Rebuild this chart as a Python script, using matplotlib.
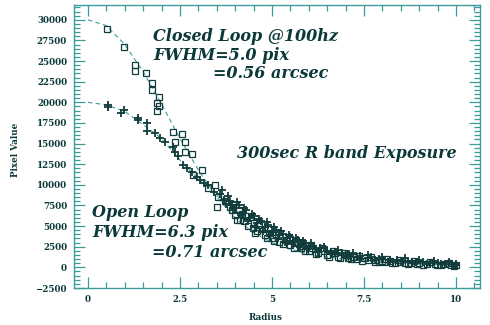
import numpy as np
import matplotlib
matplotlib.use("Agg")
import matplotlib.pyplot as plt
from matplotlib.ticker import MultipleLocator

# Closed loop (squares): radius, pixel value
closed_r = [0.53, 0.99, 1.28, 1.28, 1.58, 1.73, 1.73, 1.93, 1.93, 1.87, 1.87,
            2.32, 2.55, 2.36, 2.64, 2.64, 2.82, 3.09, 2.86, 3.45, 3.26, 3.53,
            3.50, 3.86, 3.72,
            3.9, 4.0, 4.1, 4.12, 4.24, 4.3, 4.47, 4.5, 4.6, 4.72, 4.8, 4.92,
            5.0, 5.1, 5.2, 5.39, 5.5, 5.66, 5.8, 5.83, 6.0, 6.08, 6.25, 6.4,
            6.5, 6.71, 6.8, 7.0, 7.07, 7.2, 7.28, 7.5, 7.62, 7.8, 7.81, 8.0,
            8.06, 8.2, 8.25, 8.49, 8.6, 8.77, 8.94, 9.0, 9.22, 9.43, 9.49,
            9.7, 9.85, 10.0,
            3.95, 4.05, 4.18, 4.35, 4.42, 4.55, 4.65, 4.85, 4.95, 5.05, 5.15,
            5.3, 5.45, 5.6, 5.75, 5.9, 6.05, 6.2, 6.35, 6.55, 6.65, 6.85, 6.95,
            7.15, 7.35, 7.45, 7.7, 7.9, 8.1, 8.35, 8.45, 8.7, 8.85, 9.1, 9.3,
            9.6, 9.8, 9.95]
closed_v = [28900, 26750, 24500, 23800, 23600, 22400, 21500, 20600, 19500, 19900, 19000,
            16400, 16200, 15200, 15200, 14000, 13800, 11800, 11200, 9950, 9600, 8500,
            7300, 7300, 8100,
            7000, 6300, 6900, 5800, 5600, 6200, 4800, 5400, 4400, 4700, 3900, 4200,
            3500, 3900, 3100, 3300, 2700, 2900, 2300, 2600, 2000, 2300, 1800, 2000,
            1500, 1700, 1300, 1500, 1100, 1300, 1000, 1100, 850, 950, 700, 800,
            650, 750, 550, 650, 500, 550, 400, 500, 350, 420, 300,
            350, 250, 300,
            7600, 5700, 6500, 5000, 6100, 4200, 5100, 3600, 4700, 3200, 4300,
            2800, 3700, 2400, 3100, 2000, 2700, 1600, 2300, 1300, 2000, 1100, 1700,
            1000, 1400, 800, 1200, 650, 1000, 500, 900, 400, 750, 300, 650,
            250, 550, 150]

# Open loop (plus signs)
open_r = [0.55, 0.55, 0.9, 0.99, 1.37, 1.37, 1.6, 1.61, 1.82, 1.96, 2.1, 2.32,
          2.36, 2.45, 2.59, 2.7, 2.82, 2.95, 3.04, 3.15, 3.27, 3.41,
          3.6, 3.7, 3.8, 3.9, 4.0, 4.1, 4.2, 4.3, 4.4, 4.5, 4.6, 4.7, 4.8,
          4.9, 5.0, 5.1, 5.2, 5.3, 5.4, 5.5, 5.6, 5.7, 5.8, 5.9, 6.0, 6.1,
          6.2, 6.3, 6.5, 6.6, 6.7, 6.9, 7.0, 7.1, 7.3, 7.4, 7.6, 7.7, 7.9,
          8.0, 8.2, 8.4, 8.5, 8.7, 8.9, 9.1, 9.3, 9.5, 9.7, 9.9, 10.0,
          3.65, 3.75, 3.85, 3.95, 4.05, 4.15, 4.25, 4.35, 4.45, 4.55, 4.65,
          4.75, 4.85, 4.95, 5.05, 5.15, 5.25, 5.35, 5.45, 5.55, 5.65, 5.75,
          5.85, 5.95, 6.05, 6.25, 6.4, 6.6, 6.8, 7.0, 7.2, 7.4, 7.6, 7.8,
          8.0, 8.3, 8.6, 8.8, 9.0, 9.2, 9.4, 9.6, 9.8, 10.0]
open_v = [19460, 19670, 18730, 19060, 18050, 17850, 17440, 16550, 16230, 15620, 15200, 14600,
          14000, 13500, 12380, 12000, 11570, 11000, 10560, 10200, 9950, 9140,
          8900, 8200, 8600, 7600, 7200, 7500, 6600, 6900, 6000, 6200, 5400, 5600, 4900,
          5100, 4400, 4500, 3900, 4100, 3500, 3700, 3100, 3300, 2800, 2900, 2500, 2600,
          2200, 2300, 2000, 1900, 1700, 1800, 1500, 1600, 1300, 1400, 1150, 1200, 1000,
          1050, 900, 850, 800, 700, 650, 600, 550, 500, 450, 400, 350,
          9400, 7700, 8000, 6900, 7900, 6300, 7200, 5600, 6500, 4900, 5900,
          4400, 5500, 3900, 4900, 3500, 4400, 3100, 3900, 2800, 3500, 2500,
          3200, 2200, 2900, 1900, 2500, 1600, 2100, 1200, 1800, 1000, 1500, 850,
          1300, 700, 1100, 550, 900, 450, 750, 350, 600, 250]

# dashed fit curves
fit_r = [0, 0.5, 1.0, 1.5, 2.0, 2.5, 3.0, 3.5, 4.0, 4.5, 5.0, 5.5, 6.0, 6.5, 7.0, 8.0, 9.0, 10.0]
closed_fit = [30000, 29300, 27000, 23700, 19800, 15600, 11800, 8500, 6000, 4200,
              3000, 2200, 1600, 1250, 1000, 600, 400, 250]
open_fit = [20000, 19700, 18900, 17300, 15600, 13000, 10700, 8700, 6900, 5400,
            4100, 3100, 2300, 1700, 1300, 750, 450, 250]

xticks = [0, 2.5, 5, 7.5, 10]
xticklabels = ["0", "2.5", "5", "7.5", "10"]
yticks = list(range(-2500, 30001, 2500))

txt = "#0b3838"
axc = "#3a9c9c"
mk = "#123c3c"

fig = plt.figure(figsize=(4.9, 3.25), dpi=100)
ax = fig.add_axes([74/490, 37/325, 406/490, 283/325])

ax.plot(fit_r, closed_fit, ls=(0, (4, 3)), color=axc, lw=0.8)
ax.plot(fit_r, open_fit, ls=(0, (4, 3)), color=axc, lw=0.8)
ax.plot(closed_r, closed_v, ls="none", marker="s", ms=5, mfc="none", mec=mk, mew=0.9)
ax.plot(open_r, open_v, ls="none", marker="+", ms=6, color=mk, mew=1.3)

ax.set_xlim(-0.38, 10.65)
ax.set_ylim(-2500, 31800)
ax.set_xticks(xticks)
ax.set_xticklabels(xticklabels)
ax.set_yticks(yticks)
ax.xaxis.set_minor_locator(MultipleLocator(0.5))
ax.yaxis.set_minor_locator(MultipleLocator(500))

ax.tick_params(which="both", direction="in", top=True, right=True, color=axc, width=0.9)
ax.tick_params(which="major", length=8, labelsize=6.3, labelcolor=txt, pad=5)
ax.tick_params(which="minor", length=4)
for lab in ax.get_xticklabels() + ax.get_yticklabels():
    lab.set_family("DejaVu Serif")
    lab.set_fontweight("bold")
for s in ax.spines.values():
    s.set_color(axc)
    s.set_linewidth(1.0)

lfont = dict(family="DejaVu Serif", weight="bold", size=6.3, color=txt)
fig.text(265/490, 1 - 317/325, "Radius", ha="center", va="center", **lfont)
fig.text(15/490, 1 - 150/325, "Pixel Value", ha="center", va="center", rotation=90, **lfont)

afont = dict(family="DejaVu Serif", weight="bold", style="italic", size=11.5, color=txt)
fig.text(153/490, 1 - 41/325, "Closed Loop @100hz", ha="left", va="baseline", **afont)
fig.text(153/490, 1 - 60/325, "FWHM=5.0 pix", ha="left", va="baseline", **afont)
fig.text(213/490, 1 - 78/325, "=0.56 arcsec", ha="left", va="baseline", **afont)
fig.text(237/490, 1 - 158/325, "300sec R band Exposure", ha="left", va="baseline", **afont)
fig.text(92/490, 1 - 217/325, "Open Loop", ha="left", va="baseline", **afont)
fig.text(92/490, 1 - 237/325, "FWHM=6.3 pix", ha="left", va="baseline", **afont)
fig.text(152/490, 1 - 257/325, "=0.71 arcsec", ha="left", va="baseline", **afont)

fig.savefig("out.png", dpi=100)
